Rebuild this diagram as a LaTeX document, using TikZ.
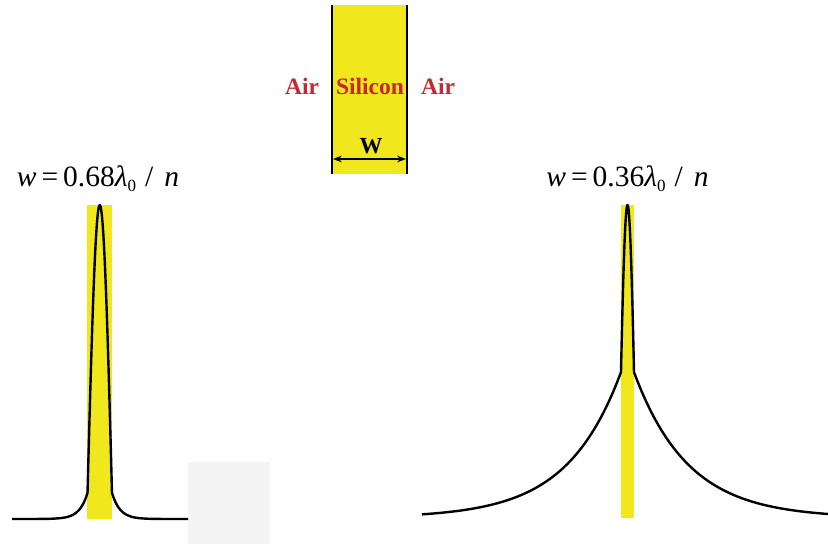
\documentclass[tikz,border=0pt]{standalone}
\usepackage{fontspec}
\setmainfont{Liberation Serif}
\usetikzlibrary{arrows.meta}

\definecolor{siliconyellow}{RGB}{240,232,28}
\definecolor{labelred}{RGB}{200,38,48}
\definecolor{boxgray}{RGB}{244,244,244}

\newcommand{\widthlabel}[1]{\textit{w}\kern5pt=\kern5pt#1\textit{λ}\raisebox{-5pt}{\fontsize{17}{17}\selectfont 0}\kern9pt/\kern11pt\textit{n}}

\begin{document}
\begin{tikzpicture}[
    x=1pt, y=-1pt,
    >=Stealth,
    slab/.style={fill=siliconyellow, draw=none},
    wall/.style={line width=2pt},
    mode/.style={line width=2.4pt, line join=round, samples=60},
    medium/.style={text=labelred, font=\fontsize{23.5}{23.5}\selectfont\bfseries, inner sep=0pt},
    widthtext/.style={font=\fontsize{29.5}{29.5}\selectfont, inner sep=0pt, anchor=base},
]
\useasboundingbox (0,0) rectangle (828,544);

% Slab sketch
\fill[slab] (332,5) rectangle (407,174);
\draw[wall] (332,5) -- (332,174);
\draw[wall] (407,5) -- (407,174);
\node[medium] (airleft) at (302,86) {Air};
\node[medium] (silicon) at (370,86) {Silicon};
\node[medium] (airright) at (438,86) {Air};

% Width arrow
\coordinate (wleft) at (333,159);
\coordinate (wright) at (406,159);
\draw[<->, line width=1.3pt] (wleft) -- (wright);
\node[font=\fontsize{23}{23}\selectfont\bfseries, inner sep=0pt] (wlabel) at (371,146) {W};

% Width labels
\node[widthtext] (labelwide) at (98,186) {\widthlabel{0.68}};
\node[widthtext] (labelnarrow) at (627.5,186) {\widthlabel{0.36}};

% Gray patch
\fill[boxgray] (188,462) rectangle (270,544);

% Wide core
\fill[slab] (87,205) rectangle (112,519);
\draw[mode] plot[domain=12:87.5] (\x, {519-314*0.083*exp(-(87.5-\x)/8)})
  -- plot[domain=87.5:112] (\x, {519-314*cos(deg(1.49*(\x-99.75)/12.25))})
  -- plot[domain=112:188] (\x, {519-314*0.083*exp(-(\x-112)/8)});

% Narrow core
\fill[slab] (621,205) rectangle (634,518);
\draw[mode] plot[domain=422:621] (\x, {518-313*0.466*exp(-(621-\x)/54)})
  -- plot[domain=621:634] (\x, {518-313*cos(deg(1.086*(\x-627.5)/6.5))})
  -- plot[domain=634:828] (\x, {518-313*0.466*exp(-(\x-634)/54)});

\end{tikzpicture}
\end{document}
